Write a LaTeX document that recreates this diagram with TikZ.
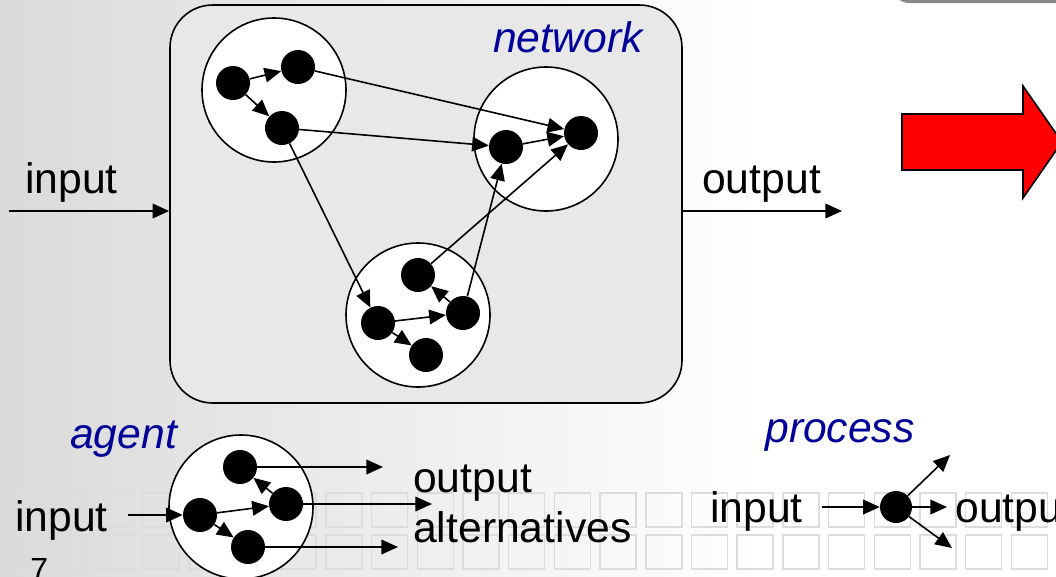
\documentclass[tikz,border=0pt]{standalone}
\usepackage{fontspec}
\setmainfont{Liberation Sans}
\usetikzlibrary{arrows.meta}
\definecolor{bgleft}{RGB}{218,218,218}
\definecolor{boxfill}{RGB}{232,232,232}
\definecolor{lblue}{RGB}{0,0,153}
\definecolor{gridc}{RGB}{220,220,220}
\definecolor{topgray}{RGB}{136,136,136}
\tikzset{
  arr/.style={line width=1.2pt,-{Triangle[length=12.5pt,width=11pt]}},
  big/.style={circle,draw,line width=1.2pt,fill=white,minimum size=108pt,inner sep=0},
  dot/.style={circle,fill=black,minimum size=25.5pt,inner sep=0},
  lab/.style={font=\fontsize{32}{38}\selectfont,inner sep=0,anchor=base west},
  blab/.style={lab,font=\fontsize{32}{38}\selectfont\itshape,text=lblue},
  gridsq/.style={draw=gridc,line width=1.1pt}
}
\begin{document}
\begin{tikzpicture}[x=0.75pt,y=-0.75pt]
\useasboundingbox (0,0) rectangle (1056,576);
\clip (0,0) rectangle (1056,576);
% background
\fill[white] (0,0) rectangle (1056,576);
\shade[left color=bgleft,right color=white] (0,0) rectangle (760,576);
\foreach \i in {0,...,23}{
  \foreach \r in {493,535}{
    \draw[gridsq] (6+45.7*\i,\r) rectangle ++(36,34);
  }
}
% top-right grey shape
\fill[topgray,rounded corners=12pt] (893,-60) rectangle (1100,3);
% network box
\node[draw,line width=1.2pt,fill=boxfill,rounded corners=32pt,minimum width=384pt,minimum height=298.5pt,inner sep=0] (net) at (426,204) {};
\node[blab] (netlab) at (493,52) {network};
% circles
\node[big] (A) at (274,90) {};
\node[big] (B) at (546,139) {};
\node[big] (C) at (418,315) {};
\node[dot] (a1) at (233,83) {};
\node[dot] (a2) at (298,67) {};
\node[dot] (a3) at (282,128) {};
\node[dot] (b1) at (506,147) {};
\node[dot] (b2) at (581,133) {};
\node[dot] (c1) at (418,275) {};
\node[dot] (c2) at (378,323) {};
\node[dot] (c3) at (463,313) {};
\node[dot] (c4) at (426,355) {};
\draw[arr] (a1) -- (a2);
\draw[arr] (a1) -- (a3);
\draw[arr] (a2) -- (b2);
\draw[arr] (a3) -- (b1);
\draw[arr] (a3) -- (c2);
\draw[arr] (c1) -- (b2);
\draw[arr] (c3) -- (b1);
\draw[arr] (b1) -- (b2);
\draw[arr] (c2) -- (c3);
\draw[arr] (c2) -- (c4);
\draw[arr] (c3) -- (c1);
% input / output
\coordinate (inL) at (9,211);
\coordinate (outR) at (842,211);
\draw[arr] (inL) -- (inL -| net.west);
\draw[arr] (outR -| net.east) -- (outR);
\node[lab] (inlab) at (25,193) {input};
\node[lab] (outlab) at (702,193) {output};
% red arrow
\draw[line width=1.2pt,fill=red] (902,114) -- (1023,114) -- (1023,86) -- (1062,142) -- (1023,198) -- (1023,170) -- (902,170) -- cycle;
% agent
\node[blab] (agentlab) at (70,448) {agent};
\node[big] (G) at (241,507) {};
\node[dot] (g1) at (240,467) {};
\node[dot] (g2) at (200,515) {};
\node[dot] (g3) at (286,504) {};
\node[dot] (g4) at (248,547) {};
\draw[arr] (g2) -- (g3);
\draw[arr] (g3) -- (g1);
\draw[arr] (g2) -- (g4);
\coordinate (gin) at (128,515);
\coordinate (go1) at (383,467);
\coordinate (go2) at (432,504);
\coordinate (go3) at (398,547);
\draw[arr] (gin) -- (g2);
\draw[arr] (g1) -- (go1);
\draw[arr] (g3) -- (go2);
\draw[arr] (g4) -- (go3);
\node[lab] (ginlab) at (15,531) {input};
\node[lab] (goutlab) at (413,492) {output};
\node[lab] (galtlab) at (413,542) {alternatives};
\node[inner sep=0,anchor=base west,font=\fontsize{24}{28}\selectfont] (pg) at (30,580) {7};
% process
\node[blab] (proclab) at (765,442) {process};
\node[dot,minimum size=24pt] (p) at (896,507) {};
\coordinate (pin) at (822,507);
\coordinate (po1) at (950,455);
\coordinate (po2) at (947,507);
\coordinate (po3) at (952,548);
\draw[arr] (pin) -- (p);
\draw[arr] (p) -- (po1);
\draw[arr] (p) -- (po2);
\draw[arr] (p) -- (po3);
\node[lab] (pinlab) at (710,522) {input};
\node[lab] (poutlab) at (955,522) {output};
\end{tikzpicture}
\end{document}
